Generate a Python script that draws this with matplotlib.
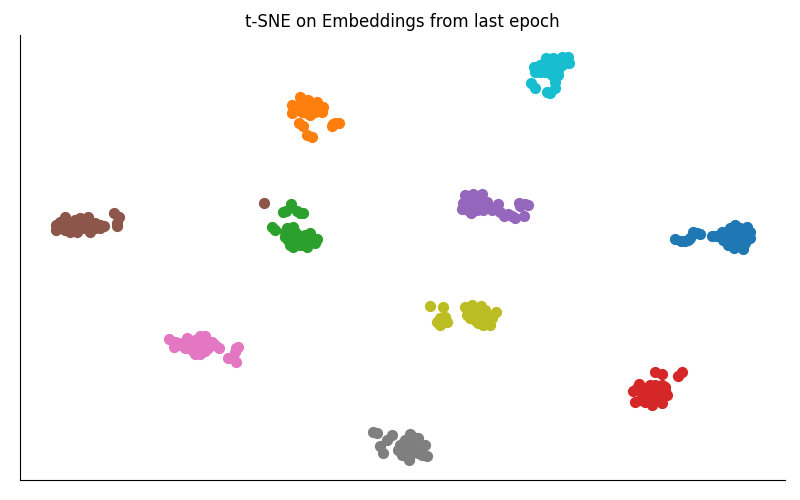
import numpy as np
import matplotlib
matplotlib.use("Agg")
import matplotlib.pyplot as plt

# values, one list of (x, y) per class
class0 = [(675,239),(685,241),(693,232),(700,234),(712,236),(722,232),(735,225),(747,227),(750,232),(750,238),(743,249),(728,245),(733,237),(723,240),(740,240),
          (716,236),(720,235),(725,236),(730,232),(730,228),(735,230),(740,228),(745,232),(738,234),(745,238),(733,243),(738,246),(745,243),(730,240),(740,236),(726,240),(742,232),(735,238),(734,248),(690,238),(697,233),(688,240),(681,241)]
class1 = [(300,97),(292,105),(292,113),(300,105),(308,100),(317,102),(323,107),(322,112),(310,115),(302,112),(310,107),(299,123),(303,126),(307,135),(312,137),(332,126),(335,123),(339,123),
          (297,110),(305,105),(305,110),(315,107),(315,112),(310,102),(303,100),(318,107),(307,113),(333,124)]
class2 = [(291,204),(283,212),(303,213),(297,211),(272,227),(275,230),(287,228),(293,227),(290,237),(293,247),(307,247),(310,233),(317,239),(300,240),(285,237),
          (285,232),(290,230),(295,232),(288,240),(295,240),(292,243),(300,245),(305,240),(310,240),(305,235),(312,240),(298,235),(290,245),(315,243),(302,243),(286,211),(300,213)]
class3 = [(655,372),(662,374),(682,372),(678,376),(639,384),(633,391),(635,402),(645,402),(652,405),(662,403),(667,395),(665,387),(655,385),(650,393),(658,393),(642,393),
          (640,390),(645,388),(650,385),(655,390),(660,390),(660,398),(650,398),(655,398),(645,398),(662,385),(640,400),(637,388),(665,391)]
class4 = [(465,195),(473,194),(482,194),(463,203),(462,209),(471,213),(483,210),(475,203),(487,202),(492,210),(498,204),(504,216),(515,218),(524,216),(525,204),(519,203),(528,205),
          (468,200),(473,200),(478,198),(470,207),(466,205),(478,208),(483,205),(488,207),(495,208),(500,212),(508,214),(512,216),(477,210),(520,206),(468,210)]
class5 = [(56,225),(56,230),(65,217),(63,225),(70,232),(77,232),(80,218),(88,217),(90,232),(95,223),(100,228),(104,226),(73,223),(83,225),(114,213),(119,217),(117,226),(117,223),(264,203),
          (60,226),(68,226),(75,225),(80,228),(85,228),(90,225),(85,220),(75,220),(70,222),(95,228),(65,230),(60,222),(78,230),(88,222),(70,228),(100,225)]
class6 = [(169,339),(174,347),(185,348),(187,338),(200,336),(205,336),(212,342),(219,348),(195,354),(200,354),(198,345),(178,343),(238,347),(235,352),(228,358),(236,362),(208,348),
          (180,345),(190,343),(195,340),(200,342),(205,342),(210,345),(200,348),(205,351),(192,350),(175,342),(195,347),(215,345),(183,343),(205,345),(190,347),(233,357),(236,348)]
class7 = [(373,432),(377,433),(392,435),(387,440),(380,446),(383,453),(410,434),(418,438),(425,445),(427,456),(409,460),(398,450),(410,447),(402,455),(418,453),
          (405,440),(410,440),(415,442),(400,445),(405,448),(415,448),(420,445),(405,455),(410,455),(415,450),(422,452),(403,443),(410,452),(413,437),(422,455)]
class8 = [(430,306),(443,307),(437,322),(447,322),(440,325),(465,307),(472,305),(481,306),(496,312),(467,315),(478,323),(490,325),(492,318),(478,313),
          (472,310),(478,308),(485,310),(488,315),(470,318),(475,320),(482,320),(487,320),(483,325),(470,312),(480,316),(440,318),(443,320),(445,317)]
class9 = [(534,67),(535,72),(540,65),(546,58),(553,58),(562,57),(568,57),(569,63),(562,65),(553,67),(545,68),(558,70),(555,82),(555,88),(550,93),(547,92),(531,83),(535,88),(540,72),(548,62),
          (540,70),(545,62),(550,62),(555,62),(560,60),(565,60),(545,72),(550,70),(557,65),(565,63),(552,75),(558,75),(555,77),(548,65),(560,65)]

classes = [class0, class1, class2, class3, class4, class5, class6, class7, class8, class9]

fig = plt.figure(figsize=(8, 5), dpi=100)
ax = fig.add_axes([0.025, 0.04, 0.956, 0.89])

for i, pts in enumerate(classes):
    pts = np.array(pts)
    ax.scatter(pts[:, 0], pts[:, 1], s=50, color="C%d" % i)

ax.set_xlim(20, 785)
ax.set_ylim(480, 35)
ax.set_xticks([])
ax.set_yticks([])
ax.spines["top"].set_visible(False)
ax.spines["right"].set_visible(False)
ax.set_title("t-SNE on Embeddings from last epoch")

fig.savefig("out.png", dpi=100)
